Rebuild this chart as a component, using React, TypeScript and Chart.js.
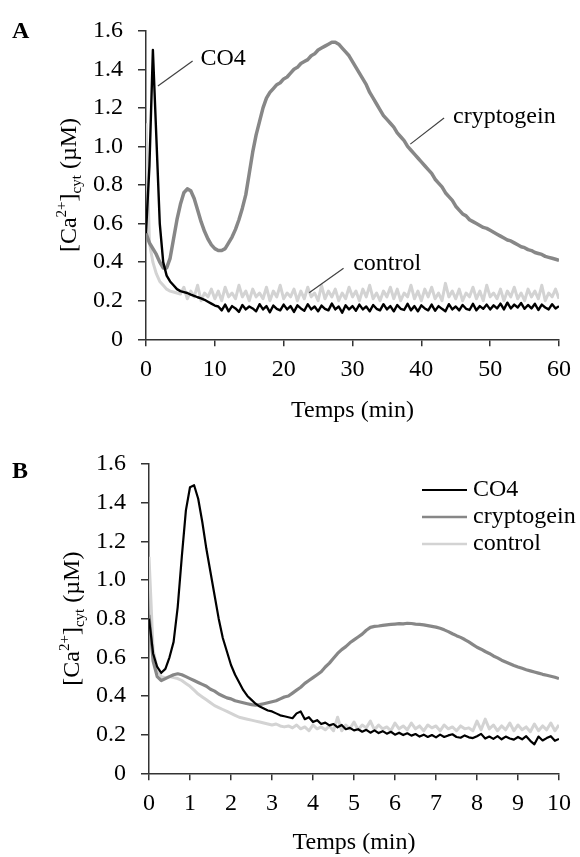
import React, { useEffect, useRef } from 'react';
import { Chart, registerables } from 'chart.js';

Chart.register(...registerables);

const FONT = "'Liberation Serif', 'Times New Roman', serif";

// ---------- Panel A (0-60 min) ----------
const timeA = [
  0, 0.5, 1, 1.5, 2, 2.5, 3, 3.5, 4, 4.5, 5, 5.5, 6, 6.5, 7, 7.5, 8, 8.5, 9, 9.5,
  10, 10.5, 11, 11.5, 12, 12.5, 13, 13.5, 14, 14.5, 15, 15.5, 16, 16.5, 17, 17.5, 18, 18.5, 19, 19.5,
  20, 20.5, 21, 21.5, 22, 22.5, 23, 23.5, 24, 24.5, 25, 25.5, 26, 26.5, 27, 27.5, 28, 28.5, 29, 29.5,
  30, 30.5, 31, 31.5, 32, 32.5, 33, 33.5, 34, 34.5, 35, 35.5, 36, 36.5, 37, 37.5, 38, 38.5, 39, 39.5,
  40, 40.5, 41, 41.5, 42, 42.5, 43, 43.5, 44, 44.5, 45, 45.5, 46, 46.5, 47, 47.5, 48, 48.5, 49, 49.5,
  50, 50.5, 51, 51.5, 52, 52.5, 53, 53.5, 54, 54.5, 55, 55.5, 56, 56.5, 57, 57.5, 58, 58.5, 59, 59.5,
  60,
];

const co4A = [
  0.55, 0.9, 1.5, 1.05, 0.6, 0.4, 0.33, 0.3, 0.28, 0.26, 0.25, 0.245, 0.24, 0.232, 0.225, 0.218, 0.212, 0.205, 0.195, 0.185,
  0.175,
  0.17, 0.15, 0.18, 0.145, 0.172, 0.16, 0.142, 0.178, 0.155, 0.17,
  0.16, 0.145, 0.182, 0.155, 0.172, 0.14, 0.175, 0.158, 0.15, 0.18,
  0.155, 0.172, 0.142, 0.176, 0.16, 0.148, 0.182, 0.155, 0.17, 0.145,
  0.175, 0.158, 0.15, 0.185, 0.155, 0.17, 0.138, 0.176, 0.155, 0.172,
  0.148, 0.18, 0.155, 0.17, 0.145, 0.178, 0.158, 0.15, 0.182, 0.155,
  0.172, 0.145, 0.178, 0.158, 0.152, 0.184, 0.15, 0.172, 0.145, 0.176,
  0.16, 0.15, 0.18, 0.148, 0.172, 0.158, 0.145, 0.182, 0.155, 0.17,
  0.15, 0.178, 0.158, 0.152, 0.184, 0.15, 0.172, 0.158, 0.18, 0.155,
  0.176, 0.16, 0.185, 0.155, 0.19, 0.16, 0.18, 0.165, 0.188, 0.158,
  0.178, 0.16, 0.184, 0.152, 0.18, 0.165, 0.155, 0.182, 0.16, 0.172,
];

const cryptogeinA = [
  0.55, 0.5, 0.47, 0.44, 0.4, 0.37, 0.37, 0.42, 0.52, 0.62,
  0.7, 0.76, 0.78, 0.77, 0.73, 0.67, 0.61, 0.56, 0.52, 0.49,
  0.47, 0.46, 0.46, 0.47, 0.5, 0.53, 0.57, 0.62, 0.68, 0.75,
  0.86, 0.97, 1.06, 1.13, 1.2, 1.25, 1.28, 1.3, 1.32, 1.33,
  1.35, 1.36, 1.38, 1.4, 1.41, 1.43, 1.44, 1.45, 1.47, 1.48,
  1.5, 1.51, 1.52, 1.53, 1.54, 1.54, 1.53, 1.51, 1.49, 1.47,
  1.44, 1.41, 1.38, 1.35, 1.32, 1.28, 1.25, 1.22, 1.19, 1.16,
  1.14, 1.12, 1.1, 1.07, 1.05, 1.03, 1.0, 0.98, 0.96, 0.94,
  0.92, 0.9, 0.88, 0.86, 0.83, 0.81, 0.79, 0.76, 0.74, 0.72,
  0.69, 0.67, 0.65, 0.64, 0.62, 0.61, 0.6, 0.59, 0.58, 0.575,
  0.565, 0.555, 0.545, 0.535, 0.525, 0.515, 0.51, 0.5, 0.49, 0.48,
  0.475, 0.465, 0.46, 0.45, 0.445, 0.44, 0.43, 0.425, 0.42, 0.415,
  0.41,
];

const controlA = [
  1.12, 0.5, 0.4, 0.34, 0.3, 0.28, 0.26, 0.25, 0.245, 0.24, 0.235,
  0.27, 0.21, 0.25, 0.22, 0.28, 0.2, 0.24, 0.22, 0.26, 0.21,
  0.25, 0.2, 0.27, 0.22, 0.24, 0.21, 0.28, 0.22, 0.25, 0.2,
  0.26, 0.22, 0.24, 0.21, 0.27, 0.2, 0.25, 0.22, 0.28, 0.21,
  0.24, 0.22, 0.26, 0.2, 0.25, 0.21, 0.27, 0.22, 0.24, 0.2,
  0.28, 0.21, 0.25, 0.22, 0.26, 0.2, 0.24, 0.21, 0.27, 0.22,
  0.25, 0.2, 0.26, 0.22, 0.28, 0.21, 0.24, 0.2, 0.25, 0.22,
  0.27, 0.21, 0.26, 0.2, 0.24, 0.22, 0.28, 0.21, 0.25, 0.2,
  0.26, 0.22, 0.27, 0.21, 0.24, 0.2, 0.29, 0.22, 0.25, 0.21,
  0.26, 0.2, 0.24, 0.22, 0.27, 0.21, 0.25, 0.2, 0.28, 0.22,
  0.24, 0.21, 0.26, 0.2, 0.25, 0.22, 0.27, 0.21, 0.24, 0.2,
  0.26, 0.22, 0.25, 0.21, 0.28, 0.2, 0.24, 0.22, 0.26, 0.21,
];

// ---------- Panel B (0-10 min) ----------
const timeB = [
  0, 0.1, 0.2, 0.3, 0.4, 0.5, 0.6, 0.7, 0.8, 0.9,
  1, 1.1, 1.2, 1.3, 1.4, 1.5, 1.6, 1.7, 1.8, 1.9,
  2, 2.1, 2.2, 2.3, 2.4, 2.5, 2.6, 2.7, 2.8, 2.9,
  3, 3.1, 3.2, 3.3, 3.4, 3.5, 3.6, 3.7, 3.8, 3.9,
  4, 4.1, 4.2, 4.3, 4.4, 4.5, 4.6, 4.7, 4.8, 4.9,
  5, 5.1, 5.2, 5.3, 5.4, 5.5, 5.6, 5.7, 5.8, 5.9,
  6, 6.1, 6.2, 6.3, 6.4, 6.5, 6.6, 6.7, 6.8, 6.9,
  7, 7.1, 7.2, 7.3, 7.4, 7.5, 7.6, 7.7, 7.8, 7.9,
  8, 8.1, 8.2, 8.3, 8.4, 8.5, 8.6, 8.7, 8.8, 8.9,
  9, 9.1, 9.2, 9.3, 9.4, 9.5, 9.6, 9.7, 9.8, 9.9,
  10,
];

const co4B = [
  0.8, 0.62, 0.55, 0.52, 0.54, 0.6, 0.68, 0.86, 1.12, 1.36,
  1.48, 1.49, 1.42, 1.3, 1.16, 1.04, 0.92, 0.8, 0.7, 0.63,
  0.56, 0.51, 0.47, 0.43, 0.4, 0.38, 0.36, 0.345, 0.335, 0.325,
  0.32, 0.31, 0.3, 0.295, 0.29, 0.285, 0.31, 0.32, 0.28, 0.29,
  0.265, 0.275, 0.255, 0.262, 0.248, 0.255, 0.238, 0.25, 0.228, 0.235,
  0.222, 0.228, 0.215, 0.225, 0.21, 0.222, 0.208, 0.218, 0.205, 0.215,
  0.2, 0.21, 0.198, 0.207, 0.195, 0.203, 0.19, 0.2, 0.188, 0.198,
  0.186, 0.2, 0.188, 0.196, 0.202, 0.188, 0.184, 0.196, 0.186, 0.182,
  0.192, 0.204, 0.18, 0.19, 0.178, 0.192, 0.176, 0.19, 0.18, 0.174,
  0.188, 0.176, 0.192, 0.168, 0.15, 0.19, 0.17, 0.182, 0.192, 0.168,
  0.178,
];

const cryptogeinB = [
  0.82, 0.58, 0.5, 0.48, 0.49, 0.5, 0.51, 0.515, 0.51, 0.5,
  0.49, 0.48, 0.47, 0.46, 0.45, 0.435, 0.425, 0.41, 0.4, 0.39,
  0.385, 0.375, 0.37, 0.365, 0.36, 0.355, 0.352, 0.355, 0.36, 0.365,
  0.37, 0.375, 0.385, 0.395, 0.4, 0.415, 0.43, 0.445, 0.465, 0.48,
  0.495, 0.51, 0.525, 0.55, 0.57, 0.595, 0.62, 0.64, 0.655, 0.675,
  0.69, 0.705, 0.72, 0.74, 0.755, 0.76, 0.762, 0.765, 0.768, 0.77,
  0.772, 0.774, 0.773, 0.776, 0.775, 0.772, 0.77, 0.768, 0.764, 0.76,
  0.756, 0.75, 0.742, 0.733, 0.722, 0.712, 0.703, 0.692, 0.68, 0.666,
  0.652, 0.642, 0.63, 0.62, 0.607, 0.597, 0.585, 0.576, 0.567, 0.558,
  0.55, 0.543, 0.536, 0.53, 0.524, 0.518, 0.512, 0.507, 0.502, 0.497,
  0.49,
];

const controlB = [
  1.12, 0.64, 0.54, 0.5, 0.495, 0.5, 0.495, 0.49, 0.48, 0.465,
  0.45, 0.43, 0.41, 0.395, 0.38, 0.365, 0.35, 0.34, 0.33, 0.32,
  0.31, 0.3, 0.29, 0.285, 0.28, 0.275, 0.27, 0.265, 0.26, 0.255,
  0.25, 0.255, 0.245, 0.24, 0.245, 0.235, 0.25, 0.23, 0.24, 0.22,
  0.25, 0.23, 0.24, 0.225, 0.245, 0.22, 0.29, 0.22, 0.25, 0.23,
  0.265, 0.225, 0.25, 0.235, 0.27, 0.225, 0.25, 0.23, 0.24, 0.22,
  0.26, 0.23, 0.245, 0.225, 0.26, 0.23, 0.245, 0.22, 0.25, 0.235,
  0.245, 0.22, 0.25, 0.23, 0.24, 0.22, 0.245, 0.23, 0.235, 0.22,
  0.27, 0.225, 0.28, 0.23, 0.25, 0.22, 0.245, 0.225, 0.26, 0.22,
  0.25, 0.225, 0.24, 0.215, 0.255, 0.22, 0.245, 0.225, 0.26, 0.22,
  0.25,
];

const seriesNames = ['CO4', 'cryptogein', 'control'];
const xTitle = 'Temps (min)';
const yTicksMax = 1.6;
const yTickStep = 0.2;

// annotations for panel A (data coordinates: [minutes, µM])
const annotationsA = [
  { text: 'CO4', from: [1.73, 1.313], to: [6.77, 1.443], at: [7.9, 1.457] },
  { text: 'cryptogein', from: [38.4, 1.012], to: [43.3, 1.147], at: [44.6, 1.152] },
  { text: 'control', from: [23.7, 0.241], to: [28.7, 0.368], at: [30.1, 0.39] },
];

const COLORS = ['#000000', '#878787', '#d3d3d3'];
const WIDTHS_A = [2.4, 3.5, 3];
const WIDTHS_B = [2.2, 3.2, 3];

type Ann = { text: string; from: number[]; to: number[]; at: number[] };
type PanelOpts = {
  letter: string;
  letterBaseline: number;
  titleOffset: number;
  annotations?: Ann[];
  legend?: { x: number; y: number; len: number; gap: number; row: number };
};

function drawYTitle(ctx: CanvasRenderingContext2D, baseX: number, centerY: number) {
  const parts = [
    { t: '[Ca', size: 24, dy: 0 },
    { t: '2+', size: 15, dy: -10 },
    { t: ']', size: 24, dy: 0 },
    { t: 'cyt', size: 15, dy: 5 },
    { t: ' (\u00b5M)', size: 24, dy: 0 },
  ];
  ctx.save();
  ctx.translate(baseX, centerY);
  ctx.rotate(-Math.PI / 2);
  ctx.textBaseline = 'alphabetic';
  ctx.textAlign = 'left';
  ctx.fillStyle = '#000';
  const widths = parts.map((p) => {
    ctx.font = `${p.size}px ${FONT}`;
    return ctx.measureText(p.t).width;
  });
  const total = widths.reduce((a, b) => a + b, 0);
  let u = -total / 2;
  parts.forEach((p, i) => {
    ctx.font = `${p.size}px ${FONT}`;
    ctx.fillText(p.t, u, p.dy);
    u += widths[i];
  });
  ctx.restore();
}

const panelPlugin = {
  id: 'panelDecor',
  afterDraw(chart: any, _args: any, opts: PanelOpts) {
    const ctx: CanvasRenderingContext2D = chart.ctx;
    const area = chart.chartArea;
    const xs = chart.scales.x;
    const ys = chart.scales.y;
    ctx.save();
    // panel letter
    ctx.fillStyle = '#000';
    ctx.font = `bold 24px ${FONT}`;
    ctx.textAlign = 'left';
    ctx.textBaseline = 'alphabetic';
    ctx.fillText(opts.letter, 12, opts.letterBaseline);
    // y title
    drawYTitle(ctx, area.left - opts.titleOffset, (area.top + area.bottom) / 2);
    // annotations
    (opts.annotations || []).forEach((a) => {
      ctx.strokeStyle = '#404040';
      ctx.lineWidth = 1.2;
      ctx.beginPath();
      ctx.moveTo(xs.getPixelForValue(a.from[0]), ys.getPixelForValue(a.from[1]));
      ctx.lineTo(xs.getPixelForValue(a.to[0]), ys.getPixelForValue(a.to[1]));
      ctx.stroke();
      ctx.fillStyle = '#000';
      ctx.font = `24px ${FONT}`;
      ctx.textAlign = 'left';
      ctx.textBaseline = 'middle';
      ctx.fillText(a.text, xs.getPixelForValue(a.at[0]), ys.getPixelForValue(a.at[1]));
    });
    // legend
    if (opts.legend) {
      const lg = opts.legend;
      chart.data.datasets.forEach((ds: any, i: number) => {
        const y = lg.y + i * lg.row;
        ctx.strokeStyle = ds.borderColor;
        ctx.lineWidth = Math.min(ds.borderWidth, 2.5);
        ctx.beginPath();
        ctx.moveTo(lg.x, y);
        ctx.lineTo(lg.x + lg.len, y);
        ctx.stroke();
        ctx.fillStyle = '#000';
        ctx.font = `24px ${FONT}`;
        ctx.textAlign = 'left';
        ctx.textBaseline = 'middle';
        ctx.fillText(ds.label, lg.x + lg.len + lg.gap, y);
      });
    }
    ctx.restore();
  },
};

function buildConfig(
  times: number[],
  series: number[][],
  widths: number[],
  xMax: number,
  xStep: number,
  layout: { top: number; right: number; yWidth: number; xHeight: number; titleBottom: number },
  panel: PanelOpts
): any {
  const axisColor = '#333';
  return {
    type: 'line',
    data: {
      datasets: series.map((vals, i) => ({
        label: seriesNames[i],
        data: times.map((t, k) => ({ x: t, y: vals[k] })),
        borderColor: COLORS[i],
        borderWidth: widths[i],
        pointRadius: 0,
        tension: 0,
        fill: false,
        borderJoinStyle: 'round',
      })),
    },
    options: {
      responsive: false,
      animation: false,
      events: [],
      layout: { padding: { top: layout.top, right: layout.right, left: 0, bottom: 0 } },
      plugins: {
        legend: { display: false },
        tooltip: { enabled: false },
        panelDecor: panel,
      },
      scales: {
        x: {
          type: 'linear',
          min: 0,
          max: xMax,
          afterFit: (s: any) => {
            s.height = layout.xHeight;
          },
          ticks: {
            stepSize: xStep,
            autoSkip: false,
            maxRotation: 0,
            color: '#000',
            padding: 9,
            font: { family: FONT, size: 24 },
          },
          grid: {
            display: true,
            drawOnChartArea: false,
            drawTicks: true,
            tickLength: 7,
            color: axisColor,
            lineWidth: 1.5,
          },
          border: { display: true, color: axisColor, width: 1.5 },
          title: {
            display: true,
            text: xTitle,
            color: '#000',
            font: { family: FONT, size: 24 },
            padding: { top: 0, bottom: layout.titleBottom },
          },
        },
        y: {
          type: 'linear',
          min: 0,
          max: yTicksMax,
          afterFit: (s: any) => {
            s.width = layout.yWidth;
          },
          ticks: {
            stepSize: yTickStep,
            color: '#000',
            padding: 15,
            font: { family: FONT, size: 24 },
          },
          grid: {
            display: true,
            drawOnChartArea: false,
            drawTicks: true,
            tickLength: 8,
            color: axisColor,
            lineWidth: 1.5,
          },
          border: { display: true, color: axisColor, width: 1.5 },
        },
      },
    },
    plugins: [panelPlugin],
  };
}

function Panel(props: { height: number; make: () => any }) {
  const ref = useRef<HTMLCanvasElement | null>(null);
  useEffect(() => {
    if (!ref.current) return;
    const chart = new Chart(ref.current, props.make());
    return () => chart.destroy();
  }, []);
  return (
    <canvas
      ref={ref}
      width={580}
      height={props.height}
      style={{ display: 'block', width: 580, height: props.height }}
    />
  );
}

export default function App() {
  const hA = 430;
  const hB = 427;
  return (
    <div style={{ position: 'absolute', left: 0, top: 0, width: 580, height: 857, background: '#fff' }}>
      <Panel
        height={hA}
        make={() =>
          buildConfig(
            timeA,
            [co4A, cryptogeinA, controlA],
            WIDTHS_A,
            60,
            10,
            { top: 30.7, right: 18, yWidth: 146, xHeight: hA - 339.3, titleBottom: 4.6 },
            { letter: 'A', letterBaseline: 38, titleOffset: 70, annotations: annotationsA }
          )
        }
      />
      <Panel
        height={hB}
        make={() =>
          buildConfig(
            timeB,
            [co4B, cryptogeinB, controlB],
            WIDTHS_B,
            10,
            1,
            { top: 34, right: 15.3, yWidth: 149, xHeight: hB - 343.3, titleBottom: 0 },
            {
              letter: 'B',
              letterBaseline: 48,
              titleOffset: 70,
              legend: { x: 422, y: 60, len: 45, gap: 6, row: 27 },
            }
          )
        }
      />
    </div>
  );
}
